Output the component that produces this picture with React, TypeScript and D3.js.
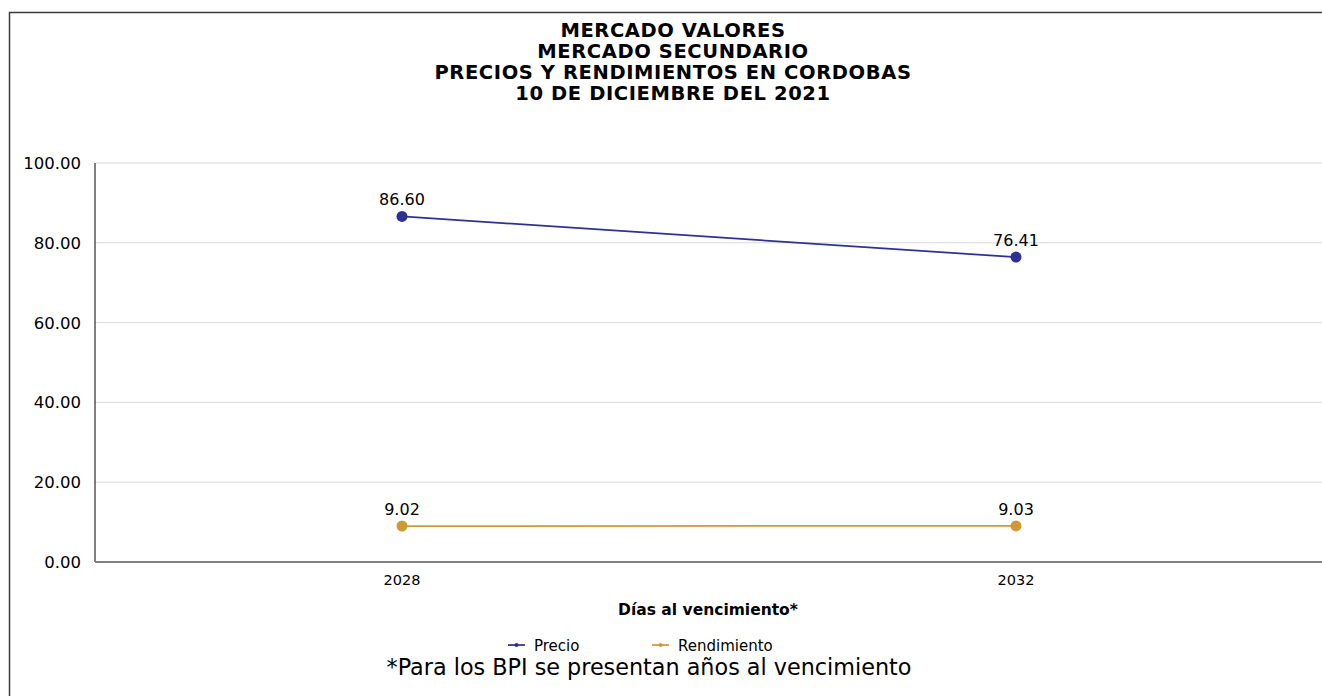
import React, { useEffect, useRef } from 'react';
import * as d3 from 'd3';

const categories = ['2028', '2032'];
const precio = [86.6, 76.41];
const rendimiento = [9.02, 9.03];
const yTicks = [0, 20, 40, 60, 80, 100];
const titleLines = [
  'MERCADO VALORES',
  'MERCADO SECUNDARIO',
  'PRECIOS Y RENDIMIENTOS EN CORDOBAS',
  '10 DE DICIEMBRE DEL 2021',
];

const FONT = '"DejaVu Sans", Verdana, Tahoma, sans-serif';

const Chart = ({ width = 1322, height = 696 }: { width?: number; height?: number }) => {
  const ref = useRef<SVGSVGElement | null>(null);

  useEffect(() => {
    if (!ref.current) return;
    const svg = d3.select(ref.current);
    svg.selectAll('*').remove();

    const left = 95, right = 1323, top = 163, bottom = 562;

    const x = d3.scaleBand<string>().domain(categories).range([left, right]);
    const y = d3.scaleLinear().domain([0, 100]).range([bottom, top]);
    const cx = (c: string) => (x(c) ?? 0) + x.bandwidth() / 2;

    svg.append('rect').attr('width', width).attr('height', height).attr('fill', '#fff');

    // outer frame (runs off the right and bottom)
    svg.append('rect')
      .attr('x', 9.5).attr('y', 12.5)
      .attr('width', 1400).attr('height', 800)
      .attr('fill', 'none').attr('stroke', '#3c3c3c').attr('stroke-width', 1.5);

    // title
    const title = svg.append('text')
      .attr('text-anchor', 'middle')
      .style('font-family', FONT).style('font-weight', 'bold').style('font-size', '19.5px')
      .style('letter-spacing', '0.6px')
      .attr('fill', '#000');
    titleLines.forEach((t, i) => {
      title.append('tspan').attr('x', 673).attr('y', 37 + i * 21).text(t);
    });

    // gridlines
    svg.append('g').selectAll('line')
      .data(yTicks.filter(d => d > 0))
      .enter().append('line')
      .attr('x1', left).attr('x2', right)
      .attr('y1', d => y(d)).attr('y2', d => y(d))
      .attr('stroke', '#d9d9d9').attr('stroke-width', 1);

    // y axis
    svg.append('line')
      .attr('x1', left).attr('x2', left).attr('y1', top).attr('y2', bottom)
      .attr('stroke', '#000').attr('stroke-width', 1);

    svg.append('g').selectAll('text')
      .data(yTicks)
      .enter().append('text')
      .attr('x', 81).attr('y', d => y(d) + 6)
      .attr('text-anchor', 'end')
      .style('font-family', FONT).style('font-size', '16.5px')
      .attr('fill', '#000')
      .text(d => d3.format('.2f')(d));

    // x axis
    svg.append('line')
      .attr('x1', left).attr('x2', right).attr('y1', bottom).attr('y2', bottom)
      .attr('stroke', '#808080').attr('stroke-width', 2);

    svg.append('g').selectAll('text')
      .data(categories)
      .enter().append('text')
      .attr('x', d => cx(d)).attr('y', 585)
      .attr('text-anchor', 'middle')
      .style('font-family', FONT).style('font-size', '14.5px')
      .attr('fill', '#000')
      .text(d => d);

    svg.append('text')
      .attr('x', 708).attr('y', 615)
      .attr('text-anchor', 'middle')
      .style('font-family', FONT).style('font-weight', 'bold').style('font-size', '15.5px')
      .attr('fill', '#000')
      .text('Días al vencimiento*');

    const series = [
      { name: 'Precio', values: precio, color: '#2e3192' },
      { name: 'Rendimiento', values: rendimiento, color: '#cf9a35' },
    ];

    const line = d3.line<number>()
      .x((_, i) => cx(categories[i]))
      .y(d => y(d));

    series.forEach(s => {
      const g = svg.append('g');
      g.append('path')
        .attr('d', line(s.values))
        .attr('fill', 'none').attr('stroke', s.color).attr('stroke-width', 1.75);
      g.selectAll('circle')
        .data(s.values)
        .enter().append('circle')
        .attr('cx', (_, i) => cx(categories[i])).attr('cy', d => y(d))
        .attr('r', 5.5).attr('fill', s.color);
      g.selectAll('text')
        .data(s.values)
        .enter().append('text')
        .attr('x', (_, i) => cx(categories[i])).attr('y', d => y(d) - 11)
        .attr('text-anchor', 'middle')
        .style('font-family', FONT).style('font-size', '16px')
        .attr('fill', '#000')
        .text(d => d3.format('.2f')(d));
    });

    // legend
    const legendX = [508, 652];
    series.forEach((s, i) => {
      const g = svg.append('g').attr('transform', `translate(${legendX[i]}, 645)`);
      g.append('line').attr('x1', 0).attr('x2', 17).attr('stroke', s.color).attr('stroke-width', 1.75);
      g.append('circle').attr('cx', 8.5).attr('r', 2).attr('fill', s.color);
      g.append('text')
        .attr('x', 26).attr('y', 5.5)
        .style('font-family', FONT).style('font-size', '15px')
        .attr('fill', '#000')
        .text(s.name);
    });

    // footnote
    svg.append('text')
      .attr('x', 649).attr('y', 675)
      .attr('text-anchor', 'middle')
      .style('font-family', FONT).style('font-size', '22.3px')
      .attr('fill', '#000')
      .text('*Para los BPI se presentan años al vencimiento');
  }, [width, height]);

  return <svg ref={ref} width={width} height={height} style={{ display: 'block' }}></svg>;
};

export default function App() {
  return (
    <div style={{ position: 'fixed', left: 0, top: 0, width: 1322, height: 696, overflow: 'hidden', background: '#fff' }}>
      <Chart />
    </div>
  );
}
